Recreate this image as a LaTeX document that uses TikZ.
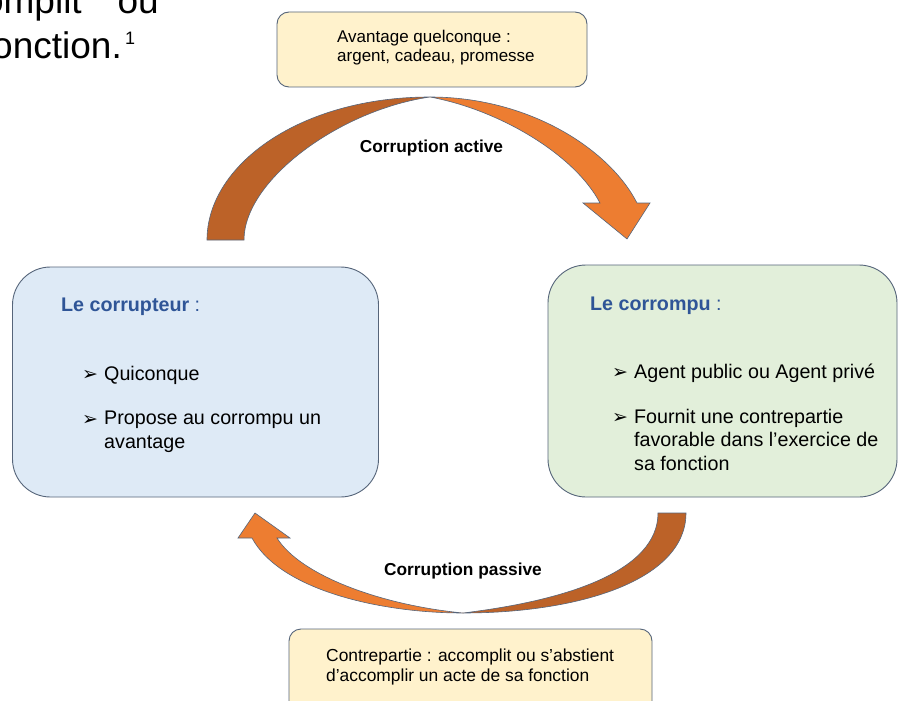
\documentclass[tikz,border=0pt]{standalone}
\usepackage{fontspec}
\setmainfont{Liberation Sans}
\newfontfamily\dejavu{DejaVu Sans}
\definecolor{edgec}{HTML}{56657A}
\definecolor{yellowf}{HTML}{FFF2CC}
\definecolor{bluef}{HTML}{DEEAF6}
\definecolor{greenf}{HTML}{E2EFDA}
\definecolor{titlec}{HTML}{2F5597}
\definecolor{orangel}{HTML}{ED7D31}
\definecolor{oranged}{HTML}{BC6228}
\tikzset{
  boxy/.style={draw=edgec, line width=0.9pt, inner sep=0pt, outer sep=0pt},
  smalltxt/.style={inner sep=0pt, font=\fontsize{17}{19}\selectfont, align=left},
  bodytxt/.style={inner sep=0pt, font=\fontsize{19.7}{23.5}\selectfont, align=left},
  titletxt/.style={inner sep=0pt, font=\fontsize{19.7}{23.5}\selectfont, text=titlec},
  labeltxt/.style={inner sep=0pt, font=\fontsize{17.3}{20}\selectfont\bfseries},
  bigtxt/.style={inner sep=0pt, font=\fontsize{37}{44}\selectfont},
  bul/.style={inner sep=0pt, font=\dejavu\fontsize{19}{21}\selectfont},
  arrowpart/.style={draw=edgec, line width=0.6pt, line join=miter}
}
\begin{document}
\begin{tikzpicture}[x=1pt,y=-1pt]
\useasboundingbox (0,0) rectangle (898,701);
\fill[white] (0,0) rectangle (898,701);
\clip (0,0) rectangle (898,701);

% cut-off text at top left
\node[bigtxt, anchor=base east] (acc) at (82,14) {accomplit};
\node[bigtxt, anchor=base east] (ou) at (159,14) {ou};
\node[bigtxt, anchor=base east] (fonc) at (122,59) {fonction.};
\node[inner sep=0pt, font=\fontsize{18}{20}\selectfont, anchor=base west] (sup) at (125,45) {1};

% top box
\node[boxy, fill=yellowf, rounded corners=12pt, minimum width=310, minimum height=75] (avantage) at (432,49.5) {};
\node[smalltxt, anchor=base west] (avtxt) at (337,62) {Avantage quelconque :\\argent, cadeau, promesse};

% bottom box
\node[boxy, fill=yellowf, rounded corners=12pt, minimum width=363, minimum height=100] (contre) at (470.5,679) {};
\node[smalltxt, anchor=base west, font=\fontsize{17.4}{20}\selectfont] (cttxt) at (326,681) {Contrepartie : accomplit ou s'abstient\\d'accomplir un acte de sa fonction};

% left box
\node[boxy, fill=bluef, rounded corners=38pt, minimum width=366, minimum height=230] (corrupteur) at (195.5,382) {};
\node[titletxt, anchor=base west] (ct) at (61,311) {\textbf{Le corrupteur} :};
\node[bul, anchor=base west] (b1) at (82,380) {➢};
\node[bodytxt, anchor=base west] (l1) at (104,380) {Quiconque};
\node[bul, anchor=base west] (b2) at (82,425) {➢};
\node[bodytxt, anchor=base west] (l2) at (104,448) {Propose au corrompu un\\avantage};

% right box
\node[boxy, fill=greenf, rounded corners=38pt, minimum width=349, minimum height=232] (corrompu) at (722.5,381) {};
\node[titletxt, anchor=base west] (rt) at (590,310) {\textbf{Le corrompu} :};
\node[bul, anchor=base west] (b3) at (612,378) {➢};
\node[bodytxt, anchor=base west] (r1) at (634,378) {Agent public ou Agent privé};
\node[bul, anchor=base west] (b4) at (612,423) {➢};
\node[bodytxt, anchor=base west] (r2) at (634,470) {Fournit une contrepartie\\favorable dans l’exercice de\\sa fonction};

% top curved arrow (corruption active)
\path[arrowpart, fill=oranged] (207,240) .. controls (207,165) and (300,97) .. (430,97)
  .. controls (340,110) and (244,180) .. (244,240) -- cycle;
\path[arrowpart, fill=orangel] (430,97) .. controls (530,97) and (610,150) .. (637,203)
  -- (650,203) -- (627,239) -- (583,203) -- (600,203)
  .. controls (575,155) and (500,110) .. (430,97) -- cycle;
\node[labeltxt, anchor=base] (active) at (431.5,153) {Corruption active};

% bottom curved arrow (corruption passive)
\path[arrowpart, fill=oranged] (686,513) .. controls (686,580) and (580,613) .. (463,613)
  .. controls (570,600) and (658,570) .. (658,513) -- cycle;
\path[arrowpart, fill=orangel] (463,613) .. controls (380,613) and (280,590) .. (252,538)
  -- (238,538) -- (255,513) -- (290,538) -- (277,538)
  .. controls (300,575) and (380,605) .. (463,613) -- cycle;
\node[labeltxt, anchor=base] (passive) at (463,575) {Corruption passive};
\end{tikzpicture}
\end{document}
